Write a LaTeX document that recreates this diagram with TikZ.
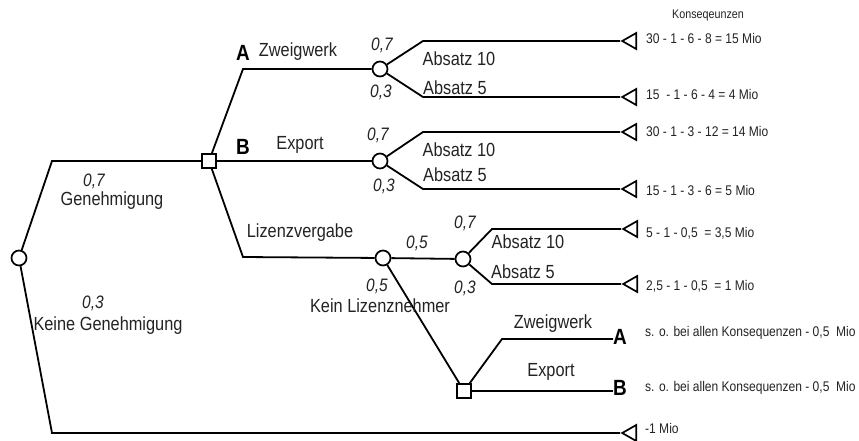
\documentclass[tikz,border=0pt]{standalone}
\usepackage{fontspec}
\setmainfont{Liberation Sans}[FakeStretch=0.86]
\usetikzlibrary{shapes.geometric}
\definecolor{ink}{RGB}{35,35,35}
\begin{document}
\begin{tikzpicture}[x=1pt,y=-1pt,
  branch/.style={line width=1.8pt},
  chance/.style={circle,draw,line width=1.7pt,minimum size=15pt,inner sep=0pt,fill=white},
  decision/.style={rectangle,draw,line width=1.7pt,minimum size=14pt,inner sep=0pt,fill=white},
  payoff/.style={isosceles triangle,shape border rotate=180,isosceles triangle stretches,
    minimum width=16pt,minimum height=14pt,inner sep=0pt,draw,line width=1.7pt,anchor=apex},
  lbl/.style={text=ink,font=\fontsize{19}{21}\selectfont,inner sep=0pt},
  prob/.style={text=ink,font=\fontsize{18}{20}\selectfont\itshape,inner sep=0pt},
  opt/.style={font=\fontsize{22}{24}\selectfont\bfseries,inner sep=0pt},
  res/.style={text=ink,font=\fontsize{14}{16}\selectfont,inner sep=0pt,anchor=west},
]
\useasboundingbox (0,0) rectangle (859,440);

% decision and chance nodes
\node[chance]   (root) at (19,258) {};
\node[decision] (D1)   at (209,161) {};
\node[chance]   (cA)   at (380,69) {};
\node[chance]   (cB)   at (380,161) {};
\node[chance]   (cL)   at (383,258) {};
\node[chance]   (cL2)  at (463,259) {};
\node[decision] (D2)   at (464,391) {};

% end points
\node[payoff] (t1) at (620,41) {};
\node[payoff] (t2) at (620,97) {};
\node[payoff] (t3) at (620,132) {};
\node[payoff] (t4) at (620,189) {};
\node[payoff] (t5) at (621,229) {};
\node[payoff] (t6) at (621,284) {};
\node[payoff] (t7) at (620,433) {};
\node[opt,anchor=west] (A2) at (613,337) {A};
\node[opt,anchor=west] (B2) at (613,388) {B};

% branches
\draw[branch] (root) -- (52,161) -- (D1);
\draw[branch] (root) -- (52,433) -- (t7.apex);
\draw[branch] (D1) -- (243,69) -- (cA);
\draw[branch] (D1) -- (cB);
\draw[branch] (D1) -- (243,257) -- (cL);
\draw[branch] (cA) -- (423,41) -- (t1.apex);
\draw[branch] (cA) -- (423,97) -- (t2.apex);
\draw[branch] (cB) -- (423,132) -- (t3.apex);
\draw[branch] (cB) -- (423,189) -- (t4.apex);
\draw[branch] (cL) -- (cL2);
\draw[branch] (cL2) -- (492,229) -- (t5.apex);
\draw[branch] (cL2) -- (492,284) -- (t6.apex);
\draw[branch] (cL) -- (D2);
\draw[branch] (D2) -- (502,339) -- (A2.west |- 0,339);
\draw[branch] (D2) -- (D2 -| B2.west);

% branch labels
\node[prob] (p1) at (94,181) {0,7};
\node[lbl]  (l1) at (112,201) {Genehmigung};
\node[prob] (p2) at (93,303) {0,3};
\node[lbl]  (l2) at (108,326) {Keine Genehmigung};
\node[opt]  (optA) at (243,53) {A};
\node[lbl]  (l3) at (298,52) {Zweigwerk};
\node[opt]  (optB) at (243,147) {B};
\node[lbl]  (l4) at (300,145) {Export};
\node[lbl]  (l5) at (300,233) {Lizenzvergabe};
\node[prob] (p3) at (382,45) {0,7};
\node[lbl]  (l6) at (459,59) {Absatz 10};
\node[prob] (p4) at (381,92) {0,3};
\node[lbl]  (l7) at (455,88) {Absatz 5};
\node[prob] (p5) at (378,135) {0,7};
\node[lbl]  (l8) at (459,150) {Absatz 10};
\node[lbl]  (l9) at (455,175) {Absatz 5};
\node[prob] (p6) at (384,186) {0,3};
\node[prob] (p7) at (417,243) {0,5};
\node[prob] (p8) at (377,286) {0,5};
\node[lbl]  (l10) at (380,306) {Kein Lizenznehmer};
\node[prob] (p9) at (465,223) {0,7};
\node[lbl]  (l11) at (528,242) {Absatz 10};
\node[prob] (p10) at (465,288) {0,3};
\node[lbl]  (l12) at (523,272) {Absatz 5};
\node[lbl]  (l13) at (553,324) {Zweigwerk};
\node[lbl]  (l14) at (551,372) {Export};

% consequences
\node[text=ink,font=\fontsize{12.5}{14}\selectfont,inner sep=0pt] (head) at (708,15) {Konseqeunzen};
\node[res] (r1) at (646,38) {30 - 1 - 6 - 8 = 15 Mio};
\node[res] (r2) at (646,94) {15 \ - 1 - 6 - 4 = 4 Mio};
\node[res] (r3) at (646,131) {30 - 1 - 3 - 12 = 14 Mio};
\node[res] (r4) at (646,190) {15 - 1 - 3 - 6 = 5 Mio};
\node[res] (r5) at (646,233) {5 - 1 - 0,5 \ = 3,5 Mio};
\node[res] (r6) at (646,286) {2,5 - 1 - 0,5 \ = 1 Mio};
\node[res] (r7) at (645,333) {s. o. bei allen Konsequenzen - 0,5 \ Mio};
\node[res] (r8) at (645,388) {s. o. bei allen Konsequenzen - 0,5 \ Mio};
\node[res] (r9) at (645,428) {-1 Mio};
\end{tikzpicture}
\end{document}
